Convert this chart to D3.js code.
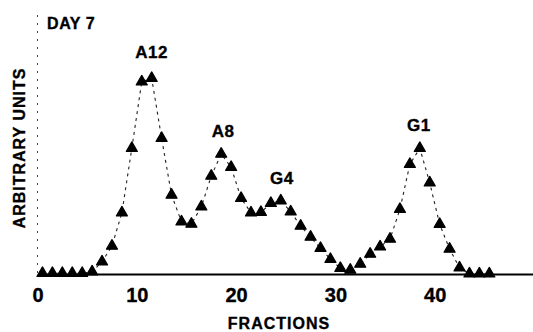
<!DOCTYPE html>
<html>
<head>
<meta charset="utf-8">
<script src="https://cdn.jsdelivr.net/npm/d3@7"></script>
<style>
  html, body { margin: 0; padding: 0; background: #fff; }
  svg { display: block; }
  text { font-family: "Liberation Sans", Arial, Helvetica, sans-serif; font-weight: bold; fill: #000; stroke: #000; stroke-width: 0.35px; }
</style>
</head>
<body>
<svg id="chart" width="533" height="332"></svg>
<script>
// Fraction numbers collected on day 7
const fractions = [
  0.5, 1.5, 2.5, 3.5, 4.5, 5.5, 6.5, 7.5, 8.5, 9.5,
  10.5, 11.5, 12.5, 13.5, 14.5, 15.5, 16.5, 17.5, 18.5, 19.5,
  20.5, 21.5, 22.5, 23.5, 24.5, 25.5, 26.5, 27.5, 28.5, 29.5,
  30.5, 31.5, 32.5, 33.5, 34.5, 35.5, 36.5, 37.5, 38.5, 39.5,
  40.5, 41.5, 42.5, 43.5, 44.5, 45.5
];
// Signal per fraction (arbitrary units)
const signal = [
  0.3, 0.3, 0.3, 0.3, 0.3, 0.9, 4.9, 11.2, 24.5, 50.3,
  76.9, 78.3, 54.3, 31.6, 20.9, 20.0, 26.9, 39.2, 48.0, 42.7,
  30.3, 24.5, 24.7, 28.3, 29.3, 24.9, 19.2, 14.8, 10.3, 5.9,
  2.3, 1.6, 4.0, 8.0, 10.9, 14.0, 25.9, 43.9, 50.3, 36.5,
  19.9, 10.0, 2.5, 0.1, 0.1, 0.1
];
const xTicks = [0, 10, 20, 30, 40];
// Peak annotations: name and the fraction / signal of the peak it marks
const peakNames = ["A12", "A8", "G4", "G1"];
const peakFractions = [11.5, 18.7, 24.6, 38.4];
const peakSignals = [79.8, 48.0, 29.3, 50.3];

const svg = d3.select("#chart");
const x = d3.scaleLinear().domain([0, 50]).range([37.5, 534]);
const y = d3.scaleLinear().domain([0, 100]).range([274, 24]);

// dotted vertical axis
svg.append("line")
  .attr("x1", x(0)).attr("x2", x(0))
  .attr("y1", 15).attr("y2", y(0))
  .attr("stroke", "#444").attr("stroke-width", 1)
  .attr("stroke-dasharray", "2,6");

// horizontal axis
const xAxis = d3.axisBottom(x).tickValues(xTicks).tickSize(0).tickPadding(14);
const gx = svg.append("g").attr("transform", `translate(0,${y(0)})`).call(xAxis);
gx.select(".domain").attr("stroke", "#000").attr("stroke-width", 2);
gx.selectAll("text")
  .style("font-size", "20px")
  .style("font-weight", "bold")
  .attr("font-family", "Liberation Sans, Arial, sans-serif")
  .attr("fill", "#000")
  .attr("stroke", "#000")
  .attr("stroke-width", 0.5);

// dashed profile line
const line = d3.line().x((d, i) => x(fractions[i])).y(d => y(d));
svg.append("path")
  .datum(signal)
  .attr("d", line)
  .attr("fill", "none")
  .attr("stroke", "#222")
  .attr("stroke-width", 1.1)
  .attr("stroke-dasharray", "3,4");

// triangle markers
svg.append("g").selectAll("path")
  .data(signal)
  .join("path")
  .attr("d", d3.symbol(d3.symbolTriangle, 52))
  .attr("transform", (d, i) => `translate(${x(fractions[i])},${y(d)})`)
  .attr("fill", "#000")
  .attr("stroke", "#000")
  .attr("stroke-width", 1.2)
  .attr("stroke-linejoin", "round");

// peak labels
svg.append("g").selectAll("text")
  .data(peakNames)
  .join("text")
  .attr("x", (d, i) => x(peakFractions[i]))
  .attr("y", (d, i) => y(peakSignals[i]) - 17)
  .attr("text-anchor", "middle")
  .style("font-size", "17px")
  .style("letter-spacing", "0.5px")
  .text(d => d);

// panel title
svg.append("text")
  .attr("x", 47).attr("y", 29)
  .style("font-size", "16px")
  .style("letter-spacing", "0.6px")
  .text("DAY 7");

// axis titles
svg.append("text")
  .attr("transform", "translate(25,148) rotate(-90)")
  .attr("text-anchor", "middle")
  .style("font-size", "16px")
  .style("letter-spacing", "1px")
  .text("ARBITRARY UNITS");

svg.append("text")
  .attr("x", 279).attr("y", 329)
  .attr("text-anchor", "middle")
  .style("font-size", "16px")
  .style("letter-spacing", "1px")
  .text("FRACTIONS");
</script>
</body>
</html>
